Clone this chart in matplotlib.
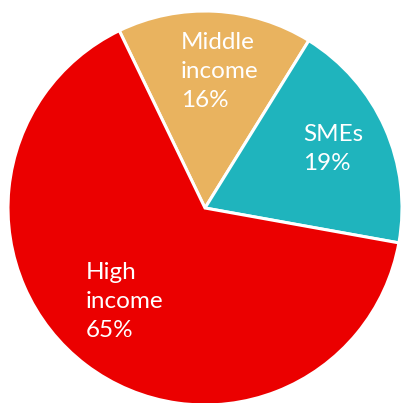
import matplotlib
matplotlib.use("Agg")
import matplotlib.pyplot as plt

segments = ["Middle\nincome", "SMEs", "High\nincome"]
shares = [16, 19, 65]
colors = ["#E9B35F", "#1FB4BD", "#EB0000"]

# label anchor points in pixel coords (x from left, y from top)
label_xy = [(181, 32), (303, 124), (86, 262)]

W = 403
fig = plt.figure(figsize=(W / 100, W / 100), dpi=100)
ax = fig.add_axes([0, 0, 1, 1])

ax.pie(shares, colors=colors, startangle=115.8, counterclock=False,
       center=(205, W - 208), radius=197,
       wedgeprops=dict(edgecolor="white", linewidth=2.2))

for name, val, (x, y) in zip(segments, shares, label_xy):
    ax.text(x, W - y, f"{name}\n{val}%", color="white", fontsize=17.5,
            family="Lato", ha="left", va="top", linespacing=1.47)

ax.set_xlim(0, W)
ax.set_ylim(0, W)
ax.set_aspect("equal")
ax.axis("off")

fig.savefig("out.png", dpi=100)
